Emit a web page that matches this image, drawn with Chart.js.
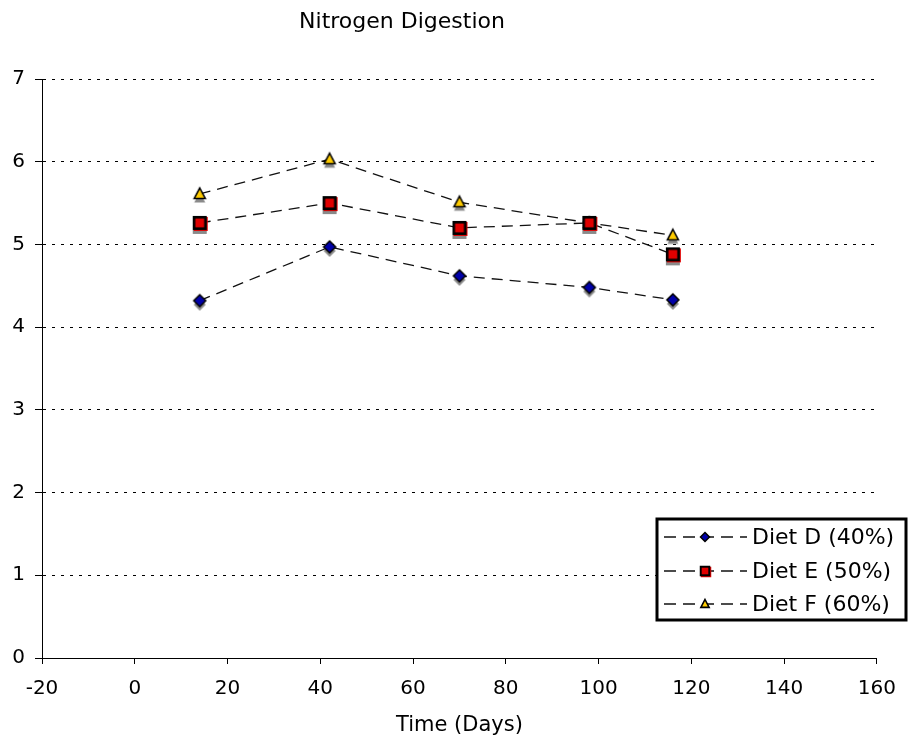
<!DOCTYPE html>
<html>
<head>
<meta charset="utf-8">
<script src="https://cdn.jsdelivr.net/npm/chart.js@4/dist/chart.umd.min.js"></script>
<style>
  html, body { margin: 0; padding: 0; background: #fff; }
  #wrap { position: relative; width: 909px; height: 741px; }
</style>
</head>
<body>
<div id="wrap"><canvas id="c" width="909" height="741"></canvas></div>
<script>
// ---- Data ----
const chartTitle = "Nitrogen Digestion";
const xAxisTitle = "Time (Days)";
const days = [14, 42, 70, 98, 116];
const seriesNames = ["Diet D (40%)", "Diet E (50%)", "Diet F (60%)"];
const dietD = [4.32, 4.97, 4.62, 4.48, 4.33];
const dietE = [5.26, 5.50, 5.20, 5.26, 4.88];
const dietF = [5.61, 6.03, 5.51, 5.26, 5.11];
const xTicks = [-20, 0, 20, 40, 60, 80, 100, 120, 140, 160];
const yTicks = [0, 1, 2, 3, 4, 5, 6, 7];

const FONT = '"DejaVu Sans", Verdana, sans-serif';

// ---- Marker drawing ----
function drawMarker(ctx, type, cx, cy, k, color) {
  ctx.save();
  if (type === 'diamond') {
    const h = 6 * k;
    ctx.beginPath();
    ctx.moveTo(cx, cy - h); ctx.lineTo(cx + h, cy); ctx.lineTo(cx, cy + h); ctx.lineTo(cx - h, cy); ctx.closePath();
    ctx.fillStyle = color || '#0000a8'; ctx.fill();
    if (!color) { ctx.lineWidth = 1.5; ctx.strokeStyle = '#000'; ctx.stroke(); }
  } else if (type === 'square') {
    const s = 14 * k;
    if (color) { ctx.fillStyle = color; ctx.fillRect(cx - s / 2, cy - s / 2, s, s); }
    else {
      ctx.fillStyle = '#e00000'; ctx.fillRect(cx - s / 2 + 1, cy - s / 2 + 1, s, s);
      ctx.fillStyle = '#000'; ctx.fillRect(cx - s / 2, cy - s / 2, s, s);
      const b = 2.6 * k;
      ctx.fillStyle = '#e00000'; ctx.fillRect(cx - s / 2 + b, cy - s / 2 + b, s - 2 * b, s - 2 * b);
    }
  } else if (type === 'triangle') {
    const w = 5.5 * k, up = 6 * k, dn = 4.5 * k;
    ctx.beginPath();
    ctx.moveTo(cx, cy - up); ctx.lineTo(cx + w, cy + dn); ctx.lineTo(cx - w, cy + dn); ctx.closePath();
    ctx.fillStyle = color || '#ffcc00'; ctx.fill();
    if (!color) { ctx.lineWidth = 1.6; ctx.lineJoin = 'miter'; ctx.strokeStyle = '#000'; ctx.stroke(); }
  }
  ctx.restore();
}

function makePointImage(type) {
  const cv = document.createElement('canvas');
  cv.width = 26; cv.height = 34;
  const ctx = cv.getContext('2d');
  drawMarker(ctx, type, 13, 21, 1, '#8a8a8a'); // shadow
  drawMarker(ctx, type, 13, 17, 1, null);
  return cv;
}

const markerTypes = ['diamond', 'square', 'triangle'];
const seriesValues = [dietD, dietE, dietF];

const datasets = seriesNames.map((name, i) => ({
  label: name,
  data: days.map((d, j) => ({ x: d, y: seriesValues[i][j] })),
  borderColor: '#111',
  borderWidth: 1.3,
  borderDash: [11, 7],
  tension: 0,
  fill: false,
  pointStyle: makePointImage(markerTypes[i]),
  pointRadius: 7,
  pointHoverRadius: 7
}));

// ---- Custom title + legend ----
const decorPlugin = {
  id: 'decor',
  afterDraw(chart) {
    const ctx = chart.ctx;
    ctx.save();
    // title
    ctx.fillStyle = '#000';
    ctx.font = '22px ' + FONT;
    ctx.textAlign = 'center';
    ctx.textBaseline = 'middle';
    ctx.fillText(chartTitle, 402, 22);

    // legend box
    const bx = 657, by = 519, bw = 249, bh = 101;
    ctx.fillStyle = '#fff';
    ctx.fillRect(bx, by, bw, bh);
    ctx.lineWidth = 3;
    ctx.strokeStyle = '#000';
    ctx.strokeRect(bx, by, bw, bh);

    const rows = [537, 571, 604];
    seriesNames.forEach((name, i) => {
      const y = rows[i];
      ctx.save();
      ctx.strokeStyle = '#111';
      ctx.lineWidth = 1.3;
      ctx.setLineDash([12, 7]);
      ctx.beginPath(); ctx.moveTo(664, y); ctx.lineTo(747, y); ctx.stroke();
      ctx.restore();
      drawMarker(ctx, markerTypes[i], 705, y, 0.75, null);
      ctx.fillStyle = '#000';
      ctx.font = '22px ' + FONT;
      ctx.textAlign = 'left';
      ctx.textBaseline = 'middle';
      ctx.fillText(name, 752, y + 1);
    });
    ctx.restore();
  }
};

new Chart(document.getElementById('c'), {
  type: 'line',
  data: { datasets },
  options: {
    responsive: false,
    animation: false,
    devicePixelRatio: 1,
    layout: { padding: { left: 0, right: 32, top: 79, bottom: 0 } },
    plugins: {
      legend: { display: false },
      title: { display: false },
      tooltip: { enabled: false }
    },
    scales: {
      x: {
        type: 'linear',
        min: xTicks[0],
        max: xTicks[xTicks.length - 1],
        afterBuildTicks(scale) { scale.ticks = xTicks.map(v => ({ value: v })); },
        afterFit(scale) { scale.height = 83; },
        ticks: { color: '#000', font: { family: FONT, size: 20 }, padding: 13, maxRotation: 0, autoSkip: false },
        grid: { drawOnChartArea: false, drawTicks: true, tickLength: 6, tickColor: '#000', tickWidth: 1 },
        border: { display: true, color: '#000', width: 1 },
        title: { display: true, text: xAxisTitle, color: '#000', font: { family: FONT, size: 21 }, padding: { top: 0, bottom: 3 } }
      },
      y: {
        type: 'linear',
        min: yTicks[0],
        max: yTicks[yTicks.length - 1],
        afterBuildTicks(scale) { scale.ticks = yTicks.map(v => ({ value: v })); },
        afterFit(scale) { scale.width = 42; },
        ticks: { color: '#000', font: { family: FONT, size: 20 }, padding: 10 },
        grid: { color: '#000', lineWidth: 1, drawTicks: true, tickLength: 7, tickColor: '#000', tickBorderDash: [] },
        border: { display: true, color: '#000', width: 1, dash: [3, 6] }
      }
    }
  },
  plugins: [decorPlugin]
});
</script>
</body>
</html>
